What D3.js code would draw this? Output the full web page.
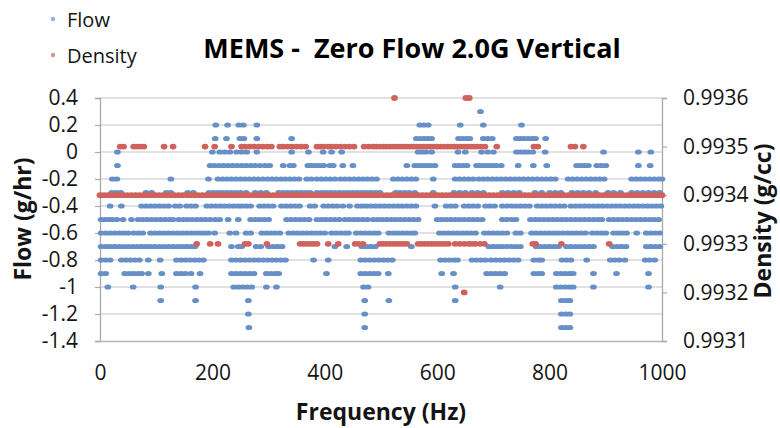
<!DOCTYPE html>
<html>
<head>
<meta charset="utf-8">
<script src="https://cdn.jsdelivr.net/npm/d3@7"></script>
<style>
  html, body { margin: 0; padding: 0; background: #fff; }
  svg { display: block; font-family: "Open Sans", "Noto Sans", sans-serif; }
</style>
</head>
<body>
<svg id="chart" width="780" height="428"></svg>
<script>
// ---------- data ----------
const title = "MEMS -  Zero Flow 2.0G Vertical";
const xTitle = "Frequency (Hz)";
const yLeftTitle = "Flow (g/hr)";
const yRightTitle = "Density (g/cc)";
const seriesNames = ["Flow", "Density"];

const freqTicks = [0, 200, 400, 600, 800, 1000];
const flowTicks = [0.4, 0.2, 0, -0.2, -0.4, -0.6, -0.8, -1, -1.2, -1.4];
const densityTicks = [0.9936, 0.9935, 0.9934, 0.9933, 0.9932, 0.9931];

// Flow (g/hr): frequencies (Hz) at which a point appears at each flow level
const flowP03 = [677];
const flowP02 = [206, 227, 247, 255, 279, 569, 576, 584, 641, 682, 750];
const flowP01 = [205, 225, 249, 256, 279, 341, 563, 570, 577, 584, 590, 638, 645, 652, 658, 682, 690, 698, 741, 748, 755, 762, 769, 775, 793];
const flow000 = [31, 200, 213, 222, 231, 243, 252, 261, 279, 341, 371, 397, 412, 430, 566, 573, 580, 590, 637, 650, 679, 690, 700, 741, 748, 755, 762, 770, 792, 896, 958, 980];
const flowM01 = [31, 196, 204, 212, 220, 228, 236, 244, 252, 260, 268, 276, 285, 294, 302, 326, 338, 344, 370, 377, 384, 391, 398, 409, 415, 432, 450, 546, 560, 567, 574, 581, 588, 596, 632, 639, 646, 653, 670, 677, 684, 691, 698, 705, 714, 744, 771, 795, 848, 855, 862, 869, 884, 892, 900, 958, 979];
const flowM02 = [22, 30, 126, 193, 210, 218, 226, 234, 242, 250, 258, 266, 274, 282, 290, 298, 306, 314, 322, 330, 338, 346, 354, 368, 376, 386, 394, 402, 410, 418, 428, 436, 444, 452, 460, 468, 476, 484, 492, 522, 530, 538, 546, 554, 562, 593, 632, 640, 648, 656, 664, 674, 682, 690, 698, 706, 714, 722, 730, 738, 746, 754, 762, 770, 778, 786, 794, 802, 810, 833, 841, 849, 857, 865, 873, 881, 889, 897, 946, 954, 962, 970, 978, 986, 994, 1000];
const flowM03 = [21, 29, 37, 82, 92, 118, 126, 156, 166, 194, 202, 210, 218, 226, 234, 242, 250, 260, 276, 286, 296, 318, 326, 334, 342, 350, 358, 366, 374, 386, 394, 402, 410, 418, 426, 434, 442, 450, 458, 466, 474, 482, 490, 498, 526, 534, 542, 550, 560, 593, 630, 640, 650, 662, 672, 682, 716, 726, 736, 746, 774, 786, 800, 810, 820, 840, 850, 860, 870, 882, 904, 914, 926, 946, 956, 966, 976, 986, 996];
const flowM04 = [18, 38, 74, 82, 90, 98, 106, 114, 122, 134, 142, 154, 162, 170, 190, 198, 206, 214, 222, 230, 238, 246, 252, 260, 268, 284, 292, 300, 308, 323, 331, 339, 347, 355, 374, 382, 398, 406, 414, 422, 432, 444, 458, 466, 474, 482, 490, 498, 506, 514, 522, 530, 538, 546, 554, 562, 596, 616, 624, 632, 648, 656, 664, 672, 686, 694, 702, 716, 724, 732, 740, 748, 756, 764, 778, 786, 794, 802, 810, 818, 826, 838, 846, 854, 862, 870, 878, 886, 894, 902, 910, 918, 926, 934, 942, 950, 958, 966, 974, 982, 990, 998];
const flowM05 = [2, 9, 16, 22, 30, 41, 56, 68, 76, 84, 92, 100, 108, 116, 124, 130, 140, 148, 156, 164, 172, 180, 188, 196, 205, 213, 228, 246, 268, 276, 284, 292, 300, 332, 340, 348, 356, 364, 372, 386, 394, 402, 410, 418, 426, 436, 444, 452, 460, 468, 476, 486, 494, 502, 510, 518, 526, 534, 542, 550, 558, 566, 600, 608, 616, 624, 632, 640, 648, 656, 664, 672, 680, 716, 724, 732, 740, 766, 774, 782, 790, 798, 806, 814, 822, 830, 838, 846, 854, 862, 870, 878, 886, 893, 906, 914, 922, 930, 938, 946, 954, 962, 970, 978, 986, 994];
const flowM06 = [2, 10, 18, 26, 34, 42, 50, 60, 68, 76, 90, 98, 106, 114, 122, 130, 138, 146, 154, 162, 170, 178, 186, 193, 204, 231, 242, 260, 268, 288, 296, 304, 312, 320, 336, 344, 352, 360, 368, 376, 384, 392, 400, 412, 420, 428, 436, 442, 456, 464, 472, 480, 488, 495, 514, 522, 530, 538, 546, 554, 560, 604, 612, 620, 628, 636, 644, 652, 660, 668, 684, 692, 700, 708, 716, 724, 740, 748, 768, 776, 784, 792, 800, 808, 816, 824, 832, 840, 848, 856, 864, 876, 884, 892, 900, 914, 922, 930, 937, 955, 972, 980, 988, 996];
const flowM07 = [2, 10, 18, 26, 34, 42, 50, 58, 66, 74, 82, 90, 98, 106, 114, 122, 130, 138, 146, 154, 162, 169, 234, 246, 252, 278, 286, 300, 308, 316, 324, 418, 439, 466, 474, 482, 490, 554, 692, 700, 708, 716, 724, 732, 740, 748, 776, 784, 792, 800, 808, 816, 830, 838, 846, 854, 862, 870, 878, 912, 920, 928, 936, 972, 980, 988, 996];
const flowM08 = [2, 10, 18, 38, 46, 54, 62, 70, 86, 107, 136, 144, 152, 160, 168, 176, 184, 234, 242, 250, 258, 266, 274, 282, 290, 298, 306, 314, 322, 330, 380, 406, 464, 472, 480, 488, 496, 504, 512, 520, 606, 614, 622, 630, 636, 662, 670, 678, 686, 696, 704, 712, 720, 728, 736, 744, 772, 780, 786, 822, 830, 838, 866, 908, 916, 924, 934, 970, 978, 987];
const flowM09 = [2, 10, 44, 52, 60, 68, 74, 86, 110, 136, 144, 152, 162, 178, 234, 242, 250, 258, 266, 274, 296, 304, 312, 318, 403, 464, 472, 480, 488, 495, 513, 608, 629, 688, 696, 704, 712, 720, 772, 780, 786, 812, 820, 828, 836, 842, 878, 919, 976];
const flowM10 = [14, 59, 108, 170, 238, 246, 254, 262, 270, 296, 314, 469, 477, 632, 712, 812, 820, 828, 836, 842, 878, 976];
const flowM11 = [108, 170, 264, 471, 514, 632, 821, 829, 836];
const flowM12 = [264, 471, 821, 829, 836];
const flowM13 = [265, 471, 821, 829, 836];

// Density (g/cc): frequencies (Hz) at which a point appears at each density level
const dens9936 = [524, 651, 657];
const dens9935 = [36, 42, 60, 66, 72, 78, 114, 130, 187, 204, 234, 252, 258, 266, 274, 282, 290, 298, 305, 320, 326, 334, 342, 350, 358, 366, 386, 392, 398, 406, 412, 420, 428, 436, 444, 452, 470, 478, 486, 492, 498, 504, 510, 516, 522, 528, 534, 540, 546, 552, 558, 564, 570, 576, 582, 588, 594, 600, 606, 612, 618, 624, 630, 636, 642, 648, 654, 660, 666, 672, 678, 685, 706, 772, 779, 838, 845, 860];
const dens9934 = [0, 7, 14, 21, 28, 35, 42, 49, 56, 63, 70, 77, 84, 91, 98, 105, 112, 119, 126, 133, 140, 147, 154, 161, 168, 175, 182, 189, 196, 203, 210, 217, 224, 231, 238, 245, 252, 259, 266, 273, 280, 287, 294, 301, 308, 315, 322, 329, 336, 343, 350, 357, 364, 371, 378, 385, 392, 399, 406, 413, 420, 427, 434, 441, 448, 455, 462, 469, 476, 483, 490, 497, 504, 511, 518, 525, 532, 539, 546, 553, 560, 567, 574, 581, 588, 595, 602, 609, 616, 623, 630, 637, 644, 651, 658, 665, 672, 679, 686, 693, 700, 707, 714, 721, 728, 735, 742, 749, 756, 763, 770, 777, 784, 791, 798, 805, 812, 819, 826, 833, 840, 847, 854, 861, 868, 875, 882, 889, 896, 903, 910, 917, 924, 931, 938, 945, 952, 959, 966, 973, 980, 987, 994, 1000];
const dens9933 = [172, 196, 210, 258, 264, 297, 356, 362, 368, 374, 380, 386, 406, 424, 454, 460, 468, 498, 504, 510, 516, 522, 528, 534, 540, 546, 566, 572, 578, 584, 590, 596, 602, 608, 614, 620, 632, 640, 648, 656, 662, 668, 676, 684, 770, 775, 821, 906];
const dens9932 = [648];

const flowRows = [
  [0.3, flowP03], [0.2, flowP02], [0.1, flowP01], [0, flow000], [-0.1, flowM01],
  [-0.2, flowM02], [-0.3, flowM03], [-0.4, flowM04], [-0.5, flowM05], [-0.6, flowM06],
  [-0.7, flowM07], [-0.8, flowM08], [-0.9, flowM09], [-1.0, flowM10], [-1.1, flowM11],
  [-1.2, flowM12], [-1.3, flowM13]
];
const densRows = [
  [0.9936, dens9936], [0.9935, dens9935], [0.9934, dens9934], [0.9933, dens9933], [0.9932, dens9932]
];
const flowPoints = flowRows.flatMap(([v, fs]) => fs.map(f => ({ f, v })));
const densPoints = densRows.flatMap(([v, fs]) => fs.map(f => ({ f, v })));

// ---------- drawing ----------
const blue = "#6690c7";
const red = "#cf625d";
const textColor = "#141414";
const svg = d3.select("#chart");

const plot = { left: 100, right: 662, top: 98, bottom: 341 };
const x = d3.scaleLinear().domain([0, 1000]).range([plot.left, plot.right]);
const yL = d3.scaleLinear().domain([-1.4, 0.4]).range([plot.bottom, plot.top]);
const yR = d3.scaleLinear().domain([0.9931, 0.9936]).range([plot.bottom, plot.top]);

// gridlines
svg.append("g").selectAll("line").data(flowTicks.filter(t => t !== -1.4)).join("line")
  .attr("x1", plot.left).attr("x2", plot.right)
  .attr("y1", d => yL(d)).attr("y2", d => yL(d))
  .attr("stroke", "#c4c4c4").attr("stroke-width", 1.2);

// left axis
const fmtFlow = d => String(+d.toFixed(1));
const gL = svg.append("g").attr("transform", `translate(${plot.left},0)`)
  .call(d3.axisLeft(yL).tickValues(flowTicks).tickFormat(fmtFlow).tickSize(5).tickPadding(17));
// right axis
const gR = svg.append("g").attr("transform", `translate(${plot.right},0)`)
  .call(d3.axisRight(yR).tickValues(densityTicks).tickFormat(d3.format(".4f")).tickSize(5).tickPadding(16));
// bottom axis
const gB = svg.append("g").attr("transform", `translate(0,${plot.bottom})`)
  .call(d3.axisBottom(x).tickValues(freqTicks).tickFormat(d3.format("d")).tickSize(0).tickPadding(24));

[gL, gR, gB].forEach(g => {
  g.select(".domain").attr("stroke", "#a9a9a9").attr("stroke-width", 1.3);
  g.selectAll(".tick line").attr("stroke", "#a9a9a9").attr("stroke-width", 1.2);
  g.selectAll(".tick text").attr("fill", textColor)
    .style("font-family", "'Open Sans', sans-serif").style("font-size", "21px");
});
gB.select(".domain").attr("stroke", "#b4b4b4");

// flow points
svg.append("g").selectAll("ellipse").data(flowPoints).join("ellipse")
  .attr("cx", d => x(d.f)).attr("cy", d => yL(d.v))
  .attr("rx", 3.4).attr("ry", 2.6)
  .attr("fill", blue);

// density points
svg.append("g").selectAll("ellipse").data(densPoints).join("ellipse")
  .attr("cx", d => x(d.f)).attr("cy", d => yR(d.v))
  .attr("rx", 3.4).attr("ry", 2.9)
  .attr("fill", red);

// title
svg.append("text")
  .attr("x", 412).attr("y", 58)
  .attr("text-anchor", "middle")
  .style("white-space", "pre")
  .style("font-size", "27px").style("font-weight", "700")
  .attr("fill", "#000")
  .text(title);

// axis titles
svg.append("text")
  .attr("x", 381).attr("y", 420).attr("text-anchor", "middle")
  .style("font-size", "23px").style("font-weight", "700").attr("fill", textColor)
  .text(xTitle);
svg.append("text")
  .attr("transform", "translate(31,219) rotate(-90)").attr("text-anchor", "middle")
  .style("font-size", "23px").style("font-weight", "700").attr("fill", textColor)
  .text(yLeftTitle);
svg.append("text")
  .attr("transform", "translate(771,221) rotate(-90)").attr("text-anchor", "middle")
  .style("font-size", "23px").style("font-weight", "700").attr("fill", textColor)
  .text(yRightTitle);

// legend
const legend = svg.append("g");
const legendItems = [
  { name: seriesNames[0], color: blue, y: 19 },
  { name: seriesNames[1], color: red, y: 55 }
];
legend.selectAll("circle").data(legendItems).join("circle")
  .attr("cx", 53).attr("cy", d => d.y).attr("r", 2.2).attr("fill", d => d.color).attr("opacity", 0.7);
legend.selectAll("text").data(legendItems).join("text")
  .attr("x", 67).attr("y", d => d.y + 8)
  .style("font-size", "20px").attr("fill", textColor)
  .text(d => d.name);
</script>
</body>
</html>
